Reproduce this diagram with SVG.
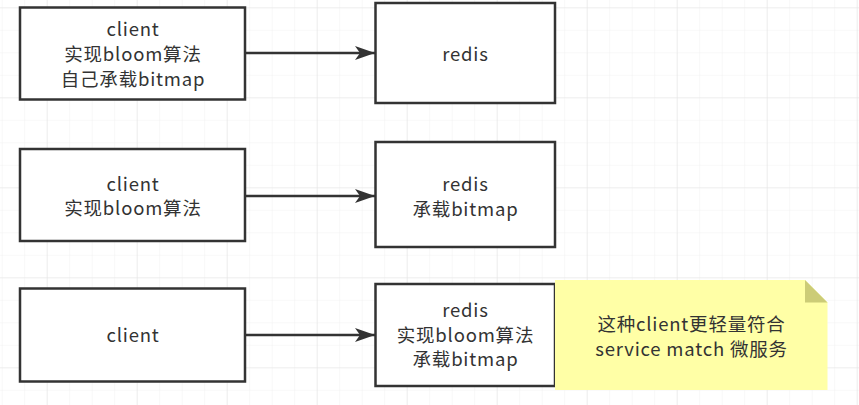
<svg xmlns="http://www.w3.org/2000/svg" width="859" height="405" viewBox="0 0 859 405">
  <defs>
    <pattern id="minor" x="1.7" y="7.3" width="22.5" height="22.5" patternUnits="userSpaceOnUse">
      <path d="M0 0H22.5M0 0V22.5" fill="none" stroke="#f2f2f2" stroke-width="1.2"/>
    </pattern>
    <pattern id="major" x="46.7" y="7.3" width="90" height="90" patternUnits="userSpaceOnUse">
      <path d="M0 0H90M0 0V90" fill="none" stroke="#e6e6e6" stroke-width="1.2"/>
    </pattern>
    <marker id="arrow" markerWidth="20" markerHeight="14" refX="20" refY="7" orient="auto" markerUnits="userSpaceOnUse">
      <path d="M0 0L20 7L0 14L5 7Z" fill="#333333"/>
    </marker>
    <style>
      .box { fill: #ffffff; stroke: #333333; stroke-width: 2.5; }
      .t { font-family: "Microsoft YaHei", "Noto Sans CJK SC", "Noto Sans", sans-serif; font-size: 18.5px; letter-spacing: 0.8px; fill: #333333; text-anchor: middle; }
      .edge { stroke: #333333; stroke-width: 2.5; fill: none; }
    </style>
  </defs>
  <rect width="859" height="405" fill="#ffffff"/>
  <rect width="859" height="405" fill="url(#minor)"/>
  <rect width="859" height="405" fill="url(#major)"/>

  <g id="edges">
    <line class="edge" x1="245" y1="53" x2="375" y2="53" marker-end="url(#arrow)"/>
    <line class="edge" x1="245" y1="196" x2="375" y2="196" marker-end="url(#arrow)"/>
    <line class="edge" x1="245" y1="335" x2="375" y2="335" marker-end="url(#arrow)"/>
  </g>

  <g id="client1">
    <rect class="box" x="20" y="7.5" width="225" height="92"/>
    <text class="t" x="133" y="36">client</text>
    <text class="t" x="133" y="61">实现bloom算法</text>
    <text class="t" x="133" y="86">自己承载bitmap</text>
  </g>
  <g id="redis1">
    <rect class="box" x="375.5" y="3" width="179.5" height="100"/>
    <text class="t" x="465.5" y="60.5">redis</text>
  </g>

  <g id="client2">
    <rect class="box" x="20" y="149" width="225" height="92"/>
    <text class="t" x="133" y="190.5">client</text>
    <text class="t" x="133" y="215">实现bloom算法</text>
  </g>
  <g id="redis2">
    <rect class="box" x="375.5" y="142" width="179.5" height="105"/>
    <text class="t" x="465.5" y="191">redis</text>
    <text class="t" x="465.5" y="215.5">承载bitmap</text>
  </g>

  <g id="client3">
    <rect class="box" x="20" y="288.5" width="225" height="93"/>
    <text class="t" x="133" y="341.5">client</text>
  </g>
  <g id="redis3">
    <rect class="box" x="375.5" y="284" width="179.5" height="102"/>
    <text class="t" x="465.5" y="317">redis</text>
    <text class="t" x="465.5" y="341.5">实现bloom算法</text>
    <text class="t" x="465.5" y="366">承载bitmap</text>
  </g>

  <g id="note">
    <path d="M555 280H805L827.5 302.5V390H555Z" fill="#ffffa6"/>
    <path d="M805 280L827.5 302.5H805Z" fill="#cccc77"/>
    <text class="t" x="691.5" y="331">这种client更轻量符合</text>
    <text class="t" x="691.5" y="355.5">service match 微服务</text>
  </g>
</svg>
